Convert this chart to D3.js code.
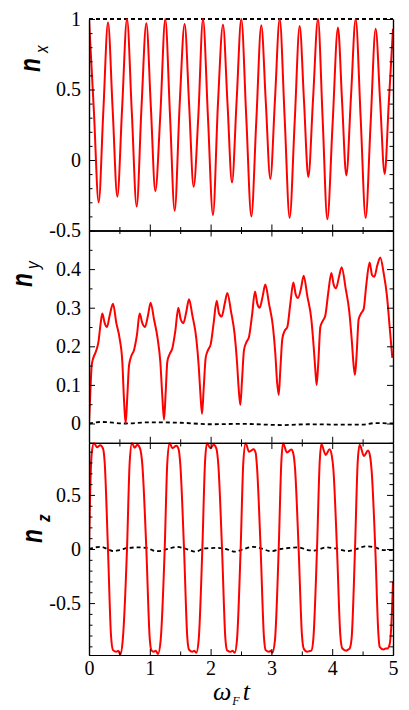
<!DOCTYPE html>
<html>
<head>
<meta charset="utf-8">
<script src="https://cdn.jsdelivr.net/npm/d3@7"></script>
<style>
  body { margin: 0; background: #fff; }
  svg { display: block; }
  .domain { stroke-width: 1.2; }
  .tick line { stroke-width: 1; }
</style>
</head>
<body>
<svg id="chart"></svg>
<script>
// ---- data: [omega_F t, value] ----
const nxCurve = [
  [0.000, 1.00], [0.080, 0.35], [0.159, -0.30], [0.236, 0.35], [0.3125, 0.975],
  [0.389, 0.36], [0.466, -0.26], [0.545, 0.37], [0.625, 1.00], [0.704, 0.34],
  [0.784, -0.33], [0.863, 0.37], [0.943, 0.97], [1.017, 0.38], [1.091, -0.22],
  [1.173, 0.32], [1.255, 1.00], [1.332, 0.32], [1.409, -0.36], [1.491, 0.39],
  [1.573, 0.965], [1.647, 0.39], [1.721, -0.19], [1.798, 0.31], [1.875, 1.00],
  [1.957, 0.30], [2.039, -0.39], [2.121, 0.40], [2.204, 0.96], [2.278, 0.40],
  [2.352, -0.16], [2.428, 0.42], [2.505, 1.00], [2.587, 0.30], [2.670, -0.40],
  [2.752, 0.28], [2.834, 0.955], [2.908, 0.41], [2.982, -0.135], [3.059, 0.43],
  [3.136, 1.00], [3.218, 0.30], [3.300, -0.41], [3.383, 0.27], [3.465, 0.95],
  [3.536, 0.42], [3.607, -0.12], [3.686, 0.44], [3.766, 1.00], [3.843, 0.29],
  [3.920, -0.42], [4.007, 0.26], [4.095, 0.94], [4.163, 0.41], [4.232, -0.11],
  [4.309, 0.45], [4.386, 1.00], [4.468, 0.30], [4.550, -0.41], [4.632, 0.26],
  [4.715, 0.93], [4.789, 0.41], [4.863, -0.10], [4.930, 0.40], [5.000, 0.93]
];
const nxDashed = [[0, 1], [5, 1]];

const nyCurve = [
  [0.000, 0.00], [0.022, 0.08], [0.044, 0.15], [0.071, 0.17], [0.110, 0.185],
  [0.154, 0.21], [0.192, 0.26], [0.219, 0.285], [0.258, 0.26], [0.296, 0.25],
  [0.340, 0.28], [0.395, 0.31], [0.450, 0.26], [0.504, 0.22], [0.548, 0.16],
  [0.576, 0.06], [0.603, 0.00], [0.630, 0.07], [0.658, 0.15], [0.696, 0.175],
  [0.740, 0.19], [0.789, 0.23], [0.833, 0.285], [0.877, 0.26], [0.921, 0.25],
  [0.970, 0.28], [1.014, 0.313], [1.069, 0.27], [1.129, 0.22], [1.173, 0.16],
  [1.206, 0.07], [1.234, 0.01], [1.261, 0.08], [1.288, 0.16], [1.327, 0.18],
  [1.371, 0.195], [1.420, 0.24], [1.469, 0.30], [1.508, 0.27], [1.552, 0.26],
  [1.601, 0.29], [1.645, 0.322], [1.700, 0.28], [1.765, 0.22], [1.804, 0.15],
  [1.831, 0.08], [1.859, 0.025], [1.886, 0.09], [1.919, 0.17], [1.957, 0.19],
  [2.001, 0.205], [2.050, 0.26], [2.100, 0.318], [2.138, 0.285], [2.182, 0.277],
  [2.232, 0.31], [2.275, 0.338], [2.336, 0.29], [2.396, 0.23], [2.434, 0.16],
  [2.462, 0.09], [2.489, 0.048], [2.516, 0.11], [2.549, 0.19], [2.588, 0.21],
  [2.632, 0.225], [2.681, 0.28], [2.730, 0.342], [2.769, 0.31], [2.807, 0.30],
  [2.857, 0.33], [2.900, 0.36], [2.961, 0.31], [3.026, 0.25], [3.065, 0.18],
  [3.092, 0.11], [3.120, 0.074], [3.147, 0.14], [3.180, 0.22], [3.218, 0.24],
  [3.262, 0.25], [3.311, 0.31], [3.361, 0.365], [3.399, 0.335], [3.437, 0.325],
  [3.487, 0.35], [3.531, 0.383], [3.591, 0.33], [3.657, 0.27], [3.695, 0.20],
  [3.722, 0.14], [3.744, 0.10], [3.772, 0.16], [3.805, 0.25], [3.843, 0.265],
  [3.887, 0.28], [3.936, 0.34], [3.986, 0.39], [4.024, 0.36], [4.062, 0.35],
  [4.112, 0.38], [4.156, 0.405], [4.221, 0.35], [4.281, 0.29], [4.320, 0.22],
  [4.353, 0.15], [4.375, 0.126], [4.402, 0.18], [4.435, 0.27], [4.474, 0.285],
  [4.518, 0.297], [4.561, 0.36], [4.616, 0.417], [4.655, 0.385], [4.693, 0.38],
  [4.742, 0.41], [4.791, 0.43], [4.846, 0.39], [4.901, 0.33], [4.945, 0.25],
  [4.989, 0.17]
];
const nyDashed = [
  [0, 0.000], [0.2, 0.004], [0.6, 0.000], [1.0, 0.003], [1.5, 0.002],
  [2.0, -0.002], [2.5, -0.001], [3.2, -0.004], [3.6, -0.002], [4.2, -0.003],
  [4.5, -0.003], [4.7, 0.001], [5.0, 0.000]
];

const nzCurve = [
  [0.000, 0.00], [0.016, 0.45], [0.044, 0.88], [0.082, 0.98], [0.132, 0.94],
  [0.186, 0.96], [0.230, 0.93], [0.258, 0.80], [0.312, 0.00], [0.362, -0.80],
  [0.395, -0.935], [0.450, -0.95], [0.482, -0.94], [0.515, -0.975], [0.554, -0.85],
  [0.625, 0.00], [0.669, 0.80],
  [0.707, 0.98], [0.751, 0.935], [0.795, 0.963], [0.839, 0.93], [0.877, 0.78],
  [0.943, 0.00], [0.998, -0.82], [1.025, -0.935], [1.064, -0.95], [1.096, -0.94],
  [1.135, -0.97], [1.179, -0.84], [1.245, 0.00], [1.288, 0.80],
  [1.327, 0.98], [1.371, 0.932], [1.436, 0.954], [1.475, 0.92], [1.502, 0.78],
  [1.563, 0.00], [1.617, -0.82], [1.645, -0.93], [1.700, -0.95], [1.732, -0.94],
  [1.765, -0.96], [1.804, -0.84], [1.864, 0.00], [1.908, 0.80],
  [1.941, 0.978], [1.996, 0.932], [2.050, 0.963], [2.094, 0.93], [2.127, 0.78],
  [2.188, 0.00], [2.242, -0.82], [2.270, -0.935], [2.330, -0.95], [2.363, -0.94],
  [2.396, -0.96], [2.434, -0.84], [2.494, 0.00], [2.538, 0.80],
  [2.577, 0.978], [2.632, 0.90], [2.708, 0.923], [2.741, 0.89], [2.763, 0.76],
  [2.823, 0.00], [2.878, -0.82], [2.906, -0.935], [2.961, -0.95], [2.988, -0.94],
  [3.015, -0.96], [3.059, -0.84], [3.120, 0.00], [3.163, 0.80],
  [3.191, 0.978], [3.257, 0.892], [3.328, 0.92], [3.361, 0.88], [3.388, 0.75],
  [3.448, 0.00], [3.503, -0.80], [3.531, -0.92], [3.586, -0.95], [3.624, -0.945],
  [3.657, -0.94], [3.690, -0.83], [3.750, 0.00], [3.794, 0.80],
  [3.821, 0.97], [3.893, 0.87], [3.958, 0.923], [3.991, 0.87], [4.019, 0.74],
  [4.079, 0.00], [4.134, -0.80], [4.167, -0.92], [4.232, -0.94], [4.260, -0.93],
  [4.287, -0.92], [4.320, -0.82], [4.375, 0.00], [4.419, 0.80],
  [4.452, 0.963], [4.523, 0.86], [4.589, 0.91], [4.622, 0.86], [4.649, 0.72],
  [4.709, 0.00], [4.759, -0.78], [4.781, -0.905], [4.846, -0.93], [4.879, -0.92],
  [4.907, -0.92], [4.945, -0.88], [4.973, -0.70], [5.000, -0.30]
];
const nzDashed = [
  [0, 0.0], [0.1, 0.015], [0.2, 0.02], [0.3, 0.0], [0.4, -0.02], [0.5, -0.01],
  [0.65, 0.01], [0.8, 0.015], [0.95, 0.01], [1.1, -0.02], [1.2, -0.015],
  [1.35, 0.01], [1.45, 0.02], [1.6, 0.0], [1.75, -0.025], [1.9, 0.005],
  [2.1, 0.01], [2.25, 0.0], [2.4, -0.025], [2.55, 0.0], [2.7, 0.02], [2.8, 0.01],
  [3.0, -0.02], [3.15, 0.0], [3.3, 0.01], [3.45, 0.015], [3.6, -0.01],
  [3.7, -0.015], [3.9, 0.015], [4.05, 0.005], [4.25, -0.02], [4.4, 0.0],
  [4.55, 0.025], [4.7, 0.015], [4.85, -0.01], [5.0, -0.01]
];

// ticks
const xMajor = [0, 1, 2, 3, 4, 5];
const xMinor = [0.5, 1.5, 2.5, 3.5, 4.5];
const nxMajor = [-0.5, 0, 0.5, 1];
const nxMinor = [-0.4, -0.3, -0.2, -0.1, 0.1, 0.2, 0.3, 0.4, 0.6, 0.7, 0.8, 0.9];
const nyMajor = [0, 0.1, 0.2, 0.3, 0.4];
const nyMinor = [-0.05, 0.05, 0.15, 0.25, 0.35, 0.45];
const nzMajor = [-0.5, 0, 0.5];
const nzMinor = [-0.9, -0.8, -0.7, -0.6, -0.4, -0.3, -0.2, -0.1, 0.1, 0.2, 0.3, 0.4, 0.6, 0.7, 0.8, 0.9];

const width = 409;
const height = 710;
const left = 89;
const right = 393;
const serif = '"Liberation Serif", "Times New Roman", Times, serif';
const sans = '"Liberation Sans", Arial, Helvetica, sans-serif';

const svg = d3.select('#chart').attr('width', width).attr('height', height);

const x = d3.scaleLinear().domain([0, 5]).range([left, right]);
const yX = d3.scaleLinear().domain([-0.5, 1]).range([230.5, 19]);
const yY = d3.scaleLinear().domain([-0.05, 0.5]).range([442.8, 230.5]);
const yZ = d3.scaleLinear().domain([-0.98, 0.98]).range([655, 443]);

function styleLabels(sel) {
  sel.attr('font-family', serif).attr('font-size', 20);
  sel.selectAll('text').style('font-family', serif).style('font-size', '20px').attr('fill', '#000');
}

function drawPanel(id, y, major, minor, red, dashed, opts) {
  const [yb, yt] = y.range();
  const g = svg.append('g');

  g.append('clipPath').attr('id', 'clip-' + id)
    .append('rect').attr('x', left).attr('y', yt - 1).attr('width', right - left).attr('height', yb - yt + 2);

  const plot = g.append('g').attr('clip-path', `url(#clip-${id})`);
  plot.append('path').datum(dashed)
    .attr('fill', 'none').attr('stroke', '#000').attr('stroke-width', 1.8)
    .attr('stroke-dasharray', '4,3')
    .attr('d', d3.line().x(d => x(d[0])).y(d => y(d[1])).curve(d3.curveMonotoneX));
  plot.append('path').datum(red)
    .attr('fill', 'none').attr('stroke', '#ff0000').attr('stroke-width', 2)
    .attr('stroke-linejoin', 'round')
    .attr('d', d3.line().x(d => x(d[0])).y(d => y(d[1])).curve(d3.curveMonotoneX));

  // left axis
  g.append('g').attr('transform', `translate(${left},0)`)
    .call(d3.axisLeft(y).tickValues(minor).tickSize(-3.5).tickSizeOuter(0).tickFormat(''));
  g.append('g').attr('transform', `translate(${left},0)`)
    .call(d3.axisLeft(y).tickValues(major).tickSize(-6).tickSizeOuter(0).tickPadding(8).tickFormat(d => String(d)))
    .call(styleLabels);
  // right axis
  g.append('g').attr('transform', `translate(${right},0)`)
    .call(d3.axisRight(y).tickValues(minor).tickSize(-3.5).tickSizeOuter(0).tickFormat(''));
  g.append('g').attr('transform', `translate(${right},0)`)
    .call(d3.axisRight(y).tickValues(major).tickSize(-6).tickSizeOuter(0).tickFormat(''));
  // bottom axis
  g.append('g').attr('transform', `translate(0,${yb})`)
    .call(d3.axisBottom(x).tickValues(xMinor).tickSize(-3.5).tickSizeOuter(0).tickFormat(''));
  g.append('g').attr('transform', `translate(0,${yb})`)
    .call(d3.axisBottom(x).tickValues(xMajor).tickSize(-6).tickSizeOuter(0).tickPadding(6)
      .tickFormat(opts.xLabels ? (d => String(d)) : ''))
    .call(styleLabels);
  // top axis
  if (opts.top) {
    g.append('g').attr('transform', `translate(0,${yt})`)
      .call(d3.axisTop(x).tickValues(xMinor).tickSize(-3.5).tickSizeOuter(0).tickFormat(''));
    g.append('g').attr('transform', `translate(0,${yt})`)
      .call(d3.axisTop(x).tickValues(xMajor).tickSize(-6).tickSizeOuter(0).tickFormat(''));
  }

  // y title: bold italic n with subscript
  g.append('text')
    .attr('transform', `translate(${opts.nx},${opts.ny}) rotate(-90) scale(0.78,1)`)
    .style('font-family', sans)
    .style('font-weight', 'bold').style('font-style', 'italic').style('font-size', '29px')
    .text('n');
  g.append('text')
    .attr('transform', `translate(${opts.sx},${opts.sy}) rotate(-90) scale(0.85,1)`)
    .style('font-family', sans)
    .style('font-style', 'italic').style('font-weight', opts.subWeight || 'normal').style('font-size', '18px')
    .text(opts.sub);
}

drawPanel('x', yX, nxMajor, nxMinor, nxCurve, nxDashed,
  { top: false, xLabels: false, nx: 40, ny: 72, sx: 48, sy: 53, sub: 'x' });
drawPanel('y', yY, nyMajor, nyMinor, nyCurve, nyDashed,
  { top: true, xLabels: false, nx: 32, ny: 287, sx: 39, sy: 269, sub: 'y' });
drawPanel('z', yZ, nzMajor, nzMinor, nzCurve, nzDashed,
  { top: true, xLabels: true, nx: 42, ny: 543, sx: 50, sy: 522, sub: 'z', subWeight: 'bold' });

// x title
const title = svg.append('text')
  .attr('x', 213).attr('y', 700)
  .style('font-family', serif)
  .style('font-style', 'italic');
title.append('tspan').style('font-size', '26px').text('ω');
title.append('tspan').style('font-size', '12px').attr('dx', 1).attr('dy', 5).text('F');
title.append('tspan').style('font-size', '26px').attr('dx', 3).attr('dy', -5).text('t');
</script>
</body>
</html>
